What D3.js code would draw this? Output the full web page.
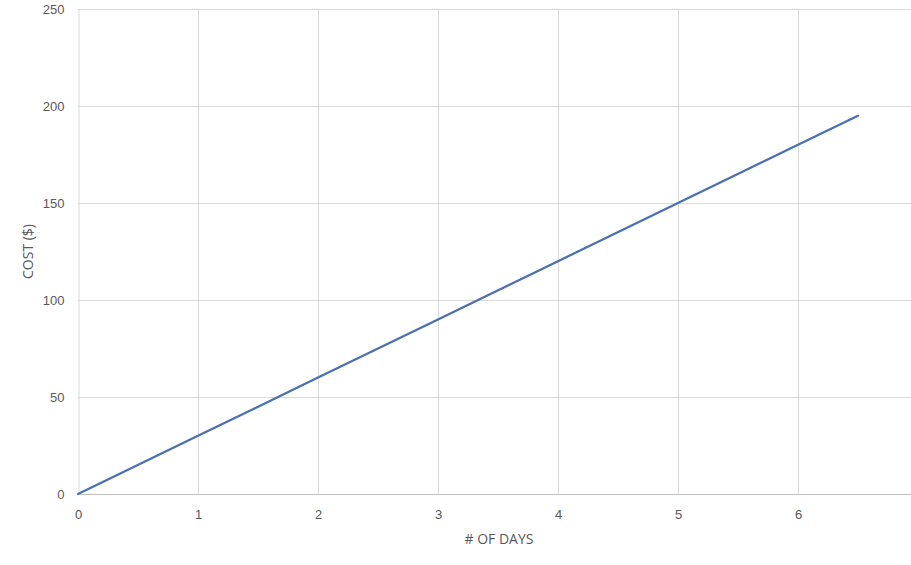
<!DOCTYPE html>
<html lang="en">
<head>
<meta charset="utf-8">
<title>Cost by days</title>
<script src="https://d3js.org/d3.v7.min.js"></script>
<style>
  html, body { margin: 0; padding: 0; background: #fff; }
  svg { display: block; font-family: "Open Sans", "Liberation Sans", sans-serif; }
  .tick text { fill: #595959; font-size: 13px; }
  .grid line { stroke: #d9d9d9; stroke-width: 1; }
  .title { fill: #595959; font-size: 14px; }
</style>
</head>
<body>
<svg id="chart"></svg>
<script>
  const days = [0, 1, 2, 3, 4, 5, 6, 6.5];
  const cost = [0, 30, 60, 90, 120, 150, 180, 195];
  const xTicks = [0, 1, 2, 3, 4, 5, 6];
  const yTicks = [0, 50, 100, 150, 200, 250];

  const width = 911, height = 565;
  const margin = { top: 9, right: -7, bottom: 71, left: 78 };

  const svg = d3.select('#chart')
    .attr('width', width)
    .attr('height', height);

  const x = d3.scaleLinear().domain([0, 7]).range([margin.left, width - margin.right]);
  const y = d3.scaleLinear().domain([0, 250]).range([height - margin.bottom, margin.top]);

  // vertical gridlines
  svg.append('g').attr('class', 'grid')
    .selectAll('line').data(xTicks.filter(d => d > 0)).enter().append('line')
      .attr('x1', d => x(d) + 0.5).attr('x2', d => x(d) + 0.5)
      .attr('y1', y(250)).attr('y2', y(0));

  // horizontal gridlines
  svg.append('g').attr('class', 'grid')
    .selectAll('line').data(yTicks.filter(d => d > 0)).enter().append('line')
      .attr('x1', x(0)).attr('x2', width)
      .attr('y1', d => y(d) + 0.5).attr('y2', d => y(d) + 0.5);

  // axes
  const xAxis = svg.append('g')
    .attr('transform', 'translate(0,' + (y(0) + 0.5) + ')')
    .call(d3.axisBottom(x).tickValues(xTicks).tickSize(0).tickPadding(15).tickFormat(d3.format('d')));
  xAxis.select('.domain').attr('stroke', '#bfbfbf').attr('d', 'M' + x(0) + ',0H' + width);

  const yAxis = svg.append('g')
    .attr('transform', 'translate(' + (x(0) + 0.5) + ',0)')
    .call(d3.axisLeft(y).tickValues(yTicks).tickSize(0).tickPadding(14));
  yAxis.select('.domain').attr('stroke', '#d9d9d9');

  // line
  const pts = days.map((d, i) => [d, cost[i]]);
  svg.append('path')
    .datum(pts)
    .attr('fill', 'none')
    .attr('stroke', '#4a70b0')
    .attr('stroke-width', 2.25)
    .attr('stroke-linecap', 'round')
    .attr('d', d3.line().x(d => x(d[0])).y(d => y(d[1])));

  // titles
  svg.append('text').attr('class', 'title')
    .attr('x', 499).attr('y', 544)
    .attr('text-anchor', 'middle')
    .text('# OF DAYS');

  svg.append('text').attr('class', 'title')
    .attr('transform', 'translate(33,' + ((y(0) + y(250)) / 2) + ') rotate(-90)')
    .attr('text-anchor', 'middle')
    .text('COST ($)');
</script>
</body>
</html>
